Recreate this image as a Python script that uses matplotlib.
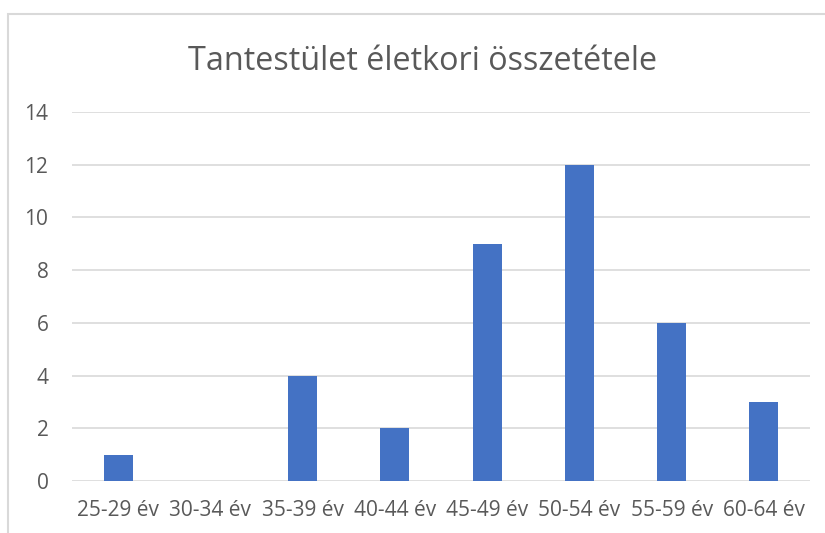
import matplotlib
matplotlib.use("Agg")
import matplotlib.pyplot as plt
from matplotlib.patches import Rectangle

categories = ["25-29 év", "30-34 év", "35-39 év", "40-44 év", "45-49 év", "50-54 év", "55-59 év", "60-64 év"]
values = [1, 0, 4, 2, 9, 12, 6, 3]
yticks = [0, 2, 4, 6, 8, 10, 12, 14]
title = "Tantestület életkori összetétele"

W, H = 825, 533
fig = plt.figure(figsize=(W/100, H/100), dpi=100)
fig.patch.set_facecolor("white")

# chart border (extends past right/bottom edges)
fig.patches.append(Rectangle((7.5/W, -0.1), 1.2, (H-13.5)/H + 0.1, transform=fig.transFigure,
                             fill=False, edgecolor="#d9d9d9", linewidth=1.5))

left, right = 72/W, 810/W
bottom, top = 1 - 481/H, 1 - 112/H
ax = fig.add_axes([left, bottom, right-left, top-bottom])
x = list(range(len(categories)))
ax.bar(x, values, width=0.313, color="#4472C4", zorder=3)
ax.set_xlim(-0.5, len(categories)-0.5)
ax.set_ylim(0, 14)
ax.set_yticks(yticks)
ax.set_xticks(x)
ax.set_xticklabels(categories)
for s in ax.spines.values():
    s.set_visible(False)
ax.grid(axis="y", color="#d9d9d9", linewidth=1.2, zorder=0)
ax.tick_params(length=0, labelsize=15, colors="#595959")
ax.tick_params(axis="x", pad=14)
ax.tick_params(axis="y", pad=17)
for lab in ax.get_xticklabels() + ax.get_yticklabels():
    lab.set_fontfamily("Open Sans")
fig.text(423/W, 1 - 62/H, title, ha="center", va="center", fontsize=23.3,
         color="#595959", fontfamily="Open Sans")
fig.savefig("out.png", dpi=100, facecolor="white")
